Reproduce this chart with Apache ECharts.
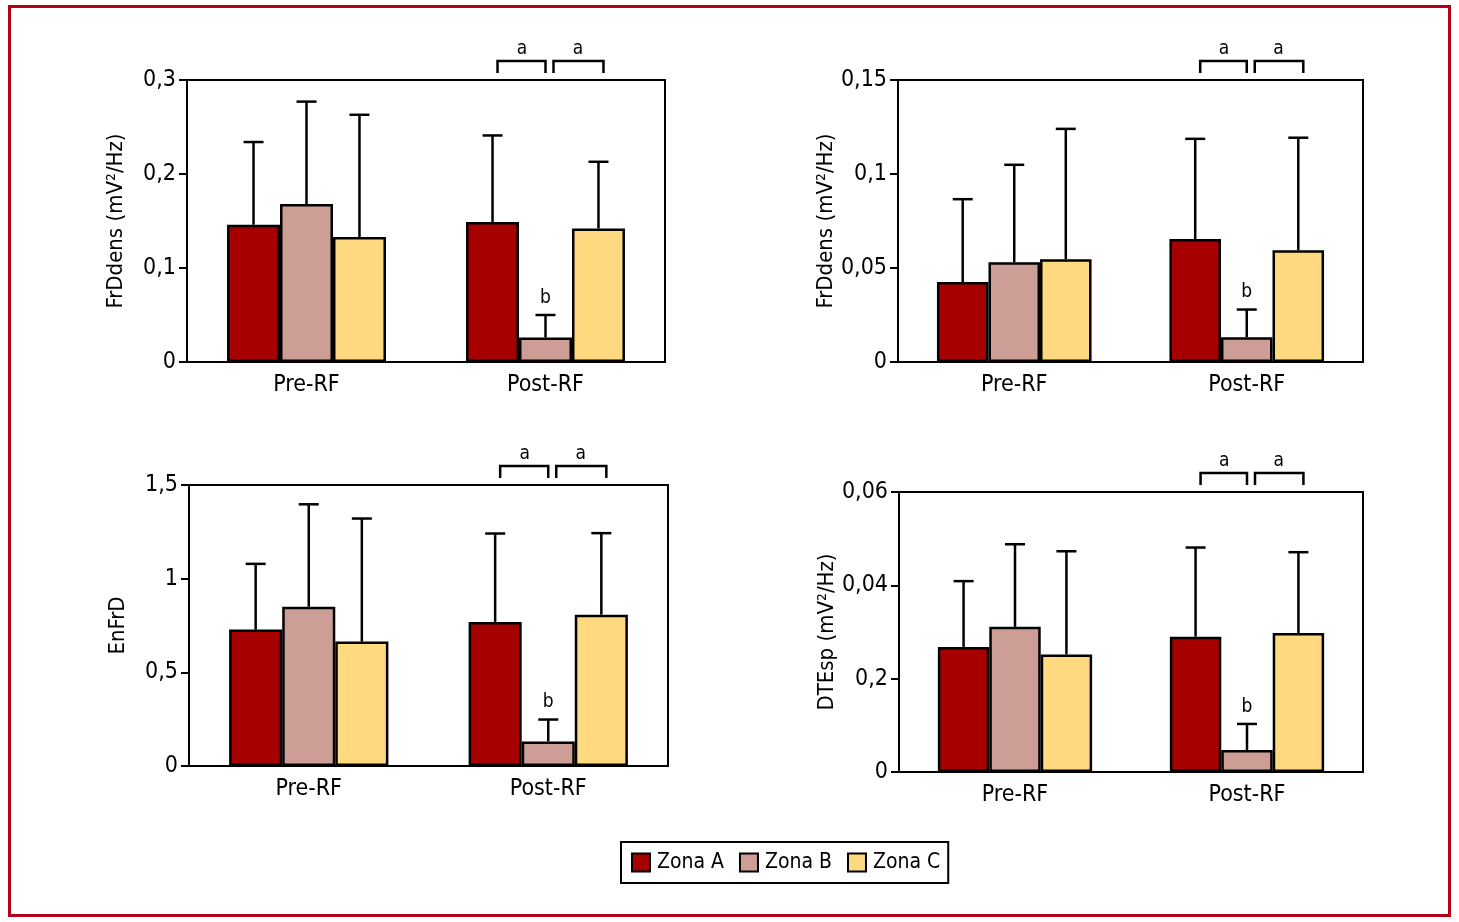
<!DOCTYPE html>
<html>
<head>
<meta charset="utf-8">
<script src="https://cdn.jsdelivr.net/npm/echarts@6/dist/echarts.min.js"></script>
<style>
html,body{margin:0;padding:0;background:#fff;}
#chart{width:1459px;height:922px;}
</style>
</head>
<body>
<div id="chart"></div>
<script>
const categories = ['Pre-RF', 'Post-RF'];
const zones = ['Zona A', 'Zona B', 'Zona C'];
const zoneColors = ['#a60000', '#cc9e95', '#fed980'];

// Panel 1: FrDdens (mV2/Hz)
const p1MeanA = [0.146, 0.149], p1SdA = [0.088, 0.092];
const p1MeanB = [0.168, 0.026], p1SdB = [0.109, 0.024];
const p1MeanC = [0.133, 0.142], p1SdC = [0.130, 0.071];
const p1Ticks = ['0', '0,1', '0,2', '0,3'];

// Panel 2: FrDdens (mV2/Hz)
const p2MeanA = [0.0425, 0.0654], p2SdA = [0.0441, 0.0533];
const p2MeanB = [0.0531, 0.0132], p2SdB = [0.0518, 0.0147];
const p2MeanC = [0.0547, 0.0595], p2SdC = [0.0693, 0.0598];
const p2Ticks = ['0', '0,05', '0,1', '0,15'];

// Panel 3: EnFrD
const p3MeanA = [0.728, 0.769], p3SdA = [0.351, 0.472];
const p3MeanB = [0.850, 0.131], p3SdB = [0.547, 0.117];
const p3MeanC = [0.664, 0.808], p3SdC = [0.657, 0.435];
const p3Ticks = ['0', '0,5', '1', '1,5'];

// Panel 4: DTEsp (mV2/Hz)
const p4MeanA = [0.0268, 0.0290], p4SdA = [0.0141, 0.0191];
const p4MeanB = [0.0311, 0.0047], p4SdB = [0.0177, 0.0056];
const p4MeanC = [0.0252, 0.0298], p4SdC = [0.0221, 0.0173];
const p4Ticks = ['0', '0,2', '0,04', '0,06'];

// significance marks
const sigZoneB = ['', 'b'];
const bracketLabel = 'a';
const bracketCategory = 1;

const FONT = "'Liberation Sans Narrow', 'DejaVu Sans Condensed', 'Roboto Condensed', 'Liberation Sans', sans-serif";
const GAP = 0.335;

const panels = [
  {name: 'FrDdens (mV²/Hz)', max: 0.3, interval: 0.1, ticks: p1Ticks,
   means: [p1MeanA, p1MeanB, p1MeanC], sds: [p1SdA, p1SdB, p1SdC],
   grid: {left: 187, top: 80, width: 478, height: 282}},
  {name: 'FrDdens (mV²/Hz)', max: 0.15, interval: 0.05, ticks: p2Ticks,
   means: [p2MeanA, p2MeanB, p2MeanC], sds: [p2SdA, p2SdB, p2SdC],
   grid: {left: 898, top: 80, width: 465, height: 282}},
  {name: 'EnFrD', max: 1.5, interval: 0.5, ticks: p3Ticks,
   means: [p3MeanA, p3MeanB, p3MeanC], sds: [p3SdA, p3SdB, p3SdC],
   grid: {left: 189, top: 485, width: 479, height: 281}},
  {name: 'DTEsp (mV²/Hz)', max: 0.06, interval: 0.02, ticks: p4Ticks,
   means: [p4MeanA, p4MeanB, p4MeanC], sds: [p4SdA, p4SdB, p4SdC],
   grid: {left: 899, top: 492, width: 464, height: 280}}
];

const grids = [], xAxes = [], yAxes = [], series = [];

panels.forEach((p, gi) => {
  grids.push(Object.assign({show: true, borderColor: '#000', borderWidth: 2, backgroundColor: 'transparent'}, p.grid));
  xAxes.push({
    type: 'category', gridIndex: gi, data: categories,
    axisLine: {lineStyle: {color: '#000', width: 2}},
    axisTick: {length: 10, lineStyle: {color: '#000', width: 2}},
    axisLabel: {color: '#000', fontSize: 23, fontFamily: FONT, margin: 12}
  });
  const ticks = p.ticks;
  yAxes.push({
    type: 'value', gridIndex: gi, min: 0, max: p.max, interval: p.interval,
    name: p.name, nameLocation: 'middle', nameGap: 60,
    nameTextStyle: {color: '#000', fontSize: 22, fontFamily: FONT},
    splitLine: {show: false},
    axisLine: {show: true, lineStyle: {color: '#000', width: 2}},
    axisTick: {show: true, length: 8, lineStyle: {color: '#000', width: 2}},
    axisLabel: {color: '#000', fontSize: 23, fontFamily: FONT, margin: 11,
      formatter: (v, idx) => ticks[idx]}
  });
  zones.forEach((z, zi) => {
    series.push({
      type: 'bar', name: z, xAxisIndex: gi, yAxisIndex: gi,
      data: p.means[zi], barGap: '0%', barCategoryGap: (GAP * 100) + '%',
      itemStyle: {color: zoneColors[zi], borderColor: '#000', borderWidth: 2.5},
      z: 2
    });
  });
  zones.forEach((z, zi) => {
    const data = categories.map((c, ci) => [ci, p.means[zi][ci], p.sds[zi][ci]]);
    series.push({
      type: 'custom', name: 'err' + gi + zi, xAxisIndex: gi, yAxisIndex: gi,
      data: data, clip: false, z: 3, silent: true,
      renderItem: (params, api) => {
        const ci = api.value(0), m = api.value(1), s = api.value(2);
        const band = api.size([1, 0])[0];
        const bw = band * (1 - GAP) / 3;
        const base = api.coord([ci, m]);
        const x = base[0] + (zi - 1) * bw;
        const top = api.coord([ci, m + s])[1];
        const children = [
          {type: 'line', shape: {x1: x, y1: base[1], x2: x, y2: top}, style: {stroke: '#000', lineWidth: 2.5}},
          {type: 'line', shape: {x1: x - 10, y1: top, x2: x + 10, y2: top}, style: {stroke: '#000', lineWidth: 2.5}}
        ];
        if (zi === 1 && sigZoneB[ci]) {
          children.push({type: 'text', style: {text: sigZoneB[ci], x: x, y: top - 17, align: 'center', verticalAlign: 'middle', fontSize: 19, fontFamily: FONT, fill: '#000'}});
        }
        return {type: 'group', children: children};
      }
    });
  });
  series.push({
    type: 'custom', name: 'brk' + gi, xAxisIndex: gi, yAxisIndex: gi,
    data: [[bracketCategory, p.max]], clip: false, z: 3, silent: true,
    renderItem: (params, api) => {
      const band = api.size([1, 0])[0];
      const bw = band * (1 - GAP) / 3;
      const c = api.coord([api.value(0), api.value(1)]);
      const xB = c[0] + 1, xA = xB - bw, xC = xB + bw, t = c[1];
      const yh = t - 19, yl = t - 7;
      const st = {stroke: '#000', lineWidth: 2.5, fill: null};
      const seg = (x1, x2) => ({type: 'polyline', shape: {points: [[x1, yl], [x1, yh], [x2, yh], [x2, yl]]}, style: st});
      const lab = (x) => ({type: 'text', style: {text: bracketLabel, x: x, y: t - 31, align: 'center', verticalAlign: 'middle', fontSize: 19, fontFamily: FONT, fill: '#000'}});
      return {type: 'group', children: [
        seg(xA + 4, xB - 1), seg(xB + 7, xC + 4),
        lab((xA + xB) / 2 + 2), lab((xB + xC) / 2 + 5)
      ]};
    }
  });
});

const chart = echarts.init(document.getElementById('chart'), null, {renderer: 'canvas'});
chart.setOption({
  animation: false,
  backgroundColor: '#fff',
  grid: grids, xAxis: xAxes, yAxis: yAxes, series: series,
  legend: {
    data: zones, left: 621, top: 842, orient: 'horizontal',
    icon: 'rect', itemWidth: 18, itemHeight: 18, itemGap: 15,
    padding: [10, 8, 10, 10],
    borderColor: '#000', borderWidth: 2,
    itemStyle: {borderColor: '#000', borderWidth: 2},
    textStyle: {color: '#000', fontSize: 21, fontFamily: FONT, padding: [0, 0, 0, 2]},
    selectedMode: false
  },
  graphic: [{
    type: 'rect', shape: {x: 9.5, y: 6.5, width: 1440, height: 909},
    style: {fill: null, stroke: '#b5001a', lineWidth: 3}, silent: true, z: 0
  }]
});
</script>
</body>
</html>
